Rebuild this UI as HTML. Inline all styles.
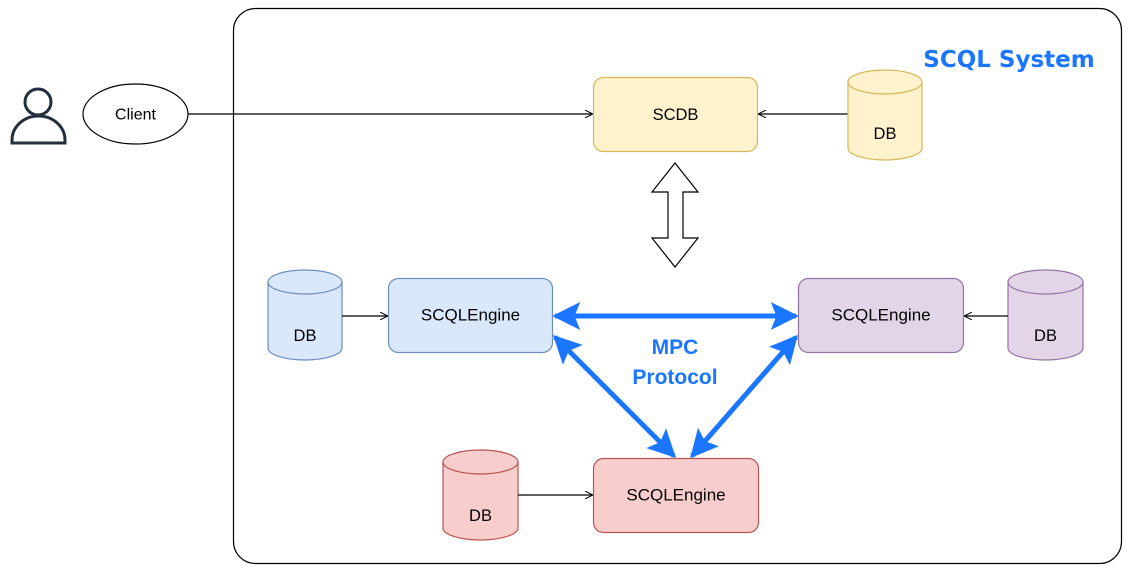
<!DOCTYPE html>
<html><head><meta charset="utf-8"><style>
html,body{margin:0;padding:0;background:#fff;width:1130px;height:572px;overflow:hidden}
svg text{font-family:"Liberation Sans","DejaVu Sans",sans-serif}
</style></head><body>
<svg width="1130" height="572" viewBox="0 0 1130 572" xmlns="http://www.w3.org/2000/svg">
<defs>
<marker id="oa" viewBox="0 0 10 10" refX="9" refY="5" markerWidth="8" markerHeight="8" markerUnits="userSpaceOnUse" orient="auto"><path d="M0,0 L10,5 L0,10" fill="none" stroke="#000" stroke-width="1.3"/></marker>
<marker id="ba" viewBox="0 0 10 10" refX="9" refY="5" markerWidth="5.6" markerHeight="5.6" orient="auto-start-reverse"><path d="M0,0 L10,5 L0,10 L2,5 Z" fill="#1a75ff"/></marker>
</defs>
<rect x="233.5" y="8.5" width="888" height="555" rx="22" fill="#fff" stroke="#000" stroke-width="1.2"/>
<text x="1009" y="67" font-size="23" font-weight="bold" fill="#1a75ff" text-anchor="middle" style="font-family:'DejaVu Sans',sans-serif">SCQL System</text>
<circle cx="38" cy="102" r="13" fill="none" stroke="#232f3e" stroke-width="3"/>
<path d="M12,143 L12,140 A26.5,24 0 0 1 65,140 L65,143 Z" fill="none" stroke="#232f3e" stroke-width="3"/>
<ellipse cx="135.5" cy="114" rx="52.5" ry="30" fill="#fff" stroke="#000" stroke-width="1.2"/>
<text x="135.5" y="119.5" font-size="16" text-anchor="middle">Client</text>
<line x1="188" y1="114" x2="592" y2="114" stroke="#000" stroke-width="1.2" marker-end="url(#oa)"/>
<rect x="593.5" y="77.5" width="164" height="74" rx="10" fill="#fff2cc" stroke="#d6b656" stroke-width="1.2"/>
<text x="675.5" y="120" font-size="16.5" text-anchor="middle">SCDB</text>
<line x1="848" y1="114" x2="759" y2="114" stroke="#000" stroke-width="1.2" marker-end="url(#oa)"/>
<g stroke-width="1.2">
<path d="M848,82 A37,12 0 0 1 922,82 L922,148 A37,12 0 0 1 848,148 Z" fill="#fff2cc" stroke="#d6b656"/><path d="M848,82 A37,12 0 0 0 922,82" fill="none" stroke="#d6b656"/>
<path d="M268,282 A37,12 0 0 1 342,282 L342,348 A37,12 0 0 1 268,348 Z" fill="#dae8fc" stroke="#6c8ebf"/><path d="M268,282 A37,12 0 0 0 342,282" fill="none" stroke="#6c8ebf"/>
<path d="M1008,282 A37.5,12 0 0 1 1083,282 L1083,348 A37.5,12 0 0 1 1008,348 Z" fill="#e1d5e7" stroke="#9673a6"/><path d="M1008,282 A37.5,12 0 0 0 1083,282" fill="none" stroke="#9673a6"/>
<path d="M443,462 A37.5,12 0 0 1 518,462 L518,528 A37.5,12 0 0 1 443,528 Z" fill="#f8cecc" stroke="#b85450"/><path d="M443,462 A37.5,12 0 0 0 518,462" fill="none" stroke="#b85450"/>
</g>
<g font-size="16.5" text-anchor="middle">
<text x="885" y="139">DB</text><text x="305" y="341">DB</text><text x="1045.5" y="341">DB</text><text x="480.5" y="521">DB</text>
</g>
<path d="M675,163 L698,192 L683,192 L683,238 L698,238 L675,267 L652,238 L668,238 L668,192 L652,192 Z" fill="#fff" stroke="#000" stroke-width="1.2"/>
<rect x="388.5" y="278.5" width="164" height="74" rx="10" fill="#dae8fc" stroke="#6c8ebf" stroke-width="1.2"/>
<text x="470.5" y="320.5" font-size="17" text-anchor="middle">SCQLEngine</text>
<rect x="798.5" y="278.5" width="165" height="74" rx="10" fill="#e1d5e7" stroke="#9673a6" stroke-width="1.2"/>
<text x="881" y="320.5" font-size="17" text-anchor="middle">SCQLEngine</text>
<rect x="593.5" y="458.5" width="165" height="74" rx="10" fill="#f8cecc" stroke="#b85450" stroke-width="1.2"/>
<text x="676" y="500.5" font-size="17" text-anchor="middle">SCQLEngine</text>
<line x1="342" y1="316" x2="387" y2="316" stroke="#000" stroke-width="1.2" marker-end="url(#oa)"/>
<line x1="1008" y1="316" x2="965" y2="316" stroke="#000" stroke-width="1.2" marker-end="url(#oa)"/>
<line x1="518" y1="495" x2="592" y2="495" stroke="#000" stroke-width="1.2" marker-end="url(#oa)"/>
<g stroke="#1a75ff" stroke-width="5" fill="none">
<line x1="555" y1="316" x2="796" y2="316" marker-start="url(#ba)" marker-end="url(#ba)"/>
<line x1="555" y1="337" x2="674" y2="456" marker-start="url(#ba)" marker-end="url(#ba)"/>
<line x1="796" y1="337" x2="692" y2="456" marker-start="url(#ba)" marker-end="url(#ba)"/>
</g>
<g font-size="21" font-weight="bold" fill="#1a75ff" text-anchor="middle" style="font-family:'DejaVu Sans',sans-serif">
<text x="675" y="354">MPC</text><text x="675" y="384">Protocol</text>
</g>
</svg>
</body></html>
